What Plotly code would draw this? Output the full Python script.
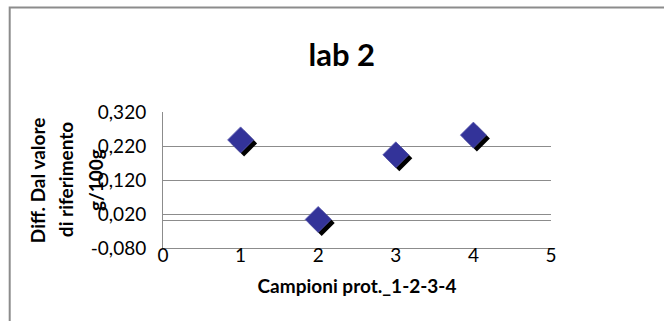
import plotly.graph_objects as go

# Data
campioni = [1, 2, 3, 4]
diff_valori = [0.238, 0.004, 0.194, 0.252]
titolo = "lab 2"
x_titolo = "Campioni prot._1-2-3-4"
y_titolo = ["Diff. Dal valore", "di riferimento", "g/100g"]
y_tick_vals = [-0.08, 0.02, 0.12, 0.22, 0.32]
y_tick_text = ["-0,080", "0,020", "0,120", "0,220", "0,320"]

W, H = 664, 321
L, R, T, B = 163, 112.5, 112, 73
PW, PH = W - L - R, H - T - B

X_RANGE = [0, 5]
Y_RANGE = [-0.08, 0.32]

GRID = "#8c8c8c"
FONT = "Lato"

def px_x(p):
    return (p - L) / PW

def px_y(p):
    return 1 - (p - T) / PH

# shadow offset in pixels
SH = 3.5
dx = SH * (X_RANGE[1] - X_RANGE[0]) / PW
dy = SH * (Y_RANGE[1] - Y_RANGE[0]) / PH

fig = go.Figure()

# base subplot carrying the visible axes and grid
fig.add_trace(go.Scatter(
    x=campioni, y=diff_valori, mode="markers",
    marker=dict(symbol="diamond", size=20, opacity=0),
    hoverinfo="skip", showlegend=False,
))
# drop shadow drawn on overlay axes shifted a few pixels down-right
fig.add_trace(go.Scatter(
    x=campioni, y=diff_valori, mode="markers",
    marker=dict(symbol="diamond", size=20, color="black", line=dict(width=0)),
    xaxis="x2", yaxis="y2", hoverinfo="skip", showlegend=False,
))
# main markers on a third overlay so they sit above the shadow
fig.add_trace(go.Scatter(
    x=campioni, y=diff_valori, mode="markers",
    marker=dict(symbol="diamond", size=20, color="#333399",
                line=dict(width=0.8, color="#5a5ab0")),
    xaxis="x3", yaxis="y3", showlegend=False,
))

fig.update_layout(
    width=W, height=H,
    margin=dict(l=L, r=R, t=T, b=B),
    paper_bgcolor="white", plot_bgcolor="white",
    font=dict(family=FONT, color="black", size=19),
    title=dict(text="<b>%s</b>" % titolo, x=px_x(342), xref="paper", xanchor="center",
               y=1 - 55 / H, yanchor="middle", font=dict(size=31, family=FONT)),
    xaxis=dict(range=X_RANGE, dtick=1, tick0=0, showgrid=False, zeroline=False,
               showline=True, linecolor=GRID, linewidth=1, ticks="",
               ticklabelstandoff=-10,
               tickfont=dict(size=19), fixedrange=True,
               title=dict(text="<b>%s</b>" % x_titolo, font=dict(size=19), standoff=14)),
    yaxis=dict(range=Y_RANGE, tickvals=y_tick_vals, ticktext=y_tick_text,
               showgrid=True, gridcolor=GRID, gridwidth=1,
               zeroline=True, zerolinecolor=GRID, zerolinewidth=1,
               showline=True, linecolor=GRID, linewidth=1, ticks="",
               ticklabelstandoff=12, tickfont=dict(size=19), fixedrange=True),
    xaxis2=dict(range=[X_RANGE[0] - dx, X_RANGE[1] - dx], overlaying="x",
                visible=False, fixedrange=True),
    yaxis2=dict(range=[Y_RANGE[0] + dy, Y_RANGE[1] + dy], overlaying="y",
                visible=False, fixedrange=True),
    xaxis3=dict(range=X_RANGE, overlaying="x", visible=False, fixedrange=True),
    yaxis3=dict(range=Y_RANGE, overlaying="y", visible=False, fixedrange=True),
)

# rotated y-axis title lines
for xp, line in zip([37, 65, 95], y_titolo):
    fig.add_annotation(text="<b>%s</b>" % line, xref="paper", yref="paper",
                       x=px_x(xp), y=px_y(180), textangle=-90, showarrow=False,
                       xanchor="center", yanchor="middle", font=dict(size=19))

# chart frame
fig.add_shape(type="rect", xref="paper", yref="paper",
              x0=px_x(9.5), x1=px_x(W + 20), y0=px_y(7.5), y1=px_y(H + 20),
              line=dict(color="#8c8c8c", width=2), layer="below")

fig.write_html("out.html")
